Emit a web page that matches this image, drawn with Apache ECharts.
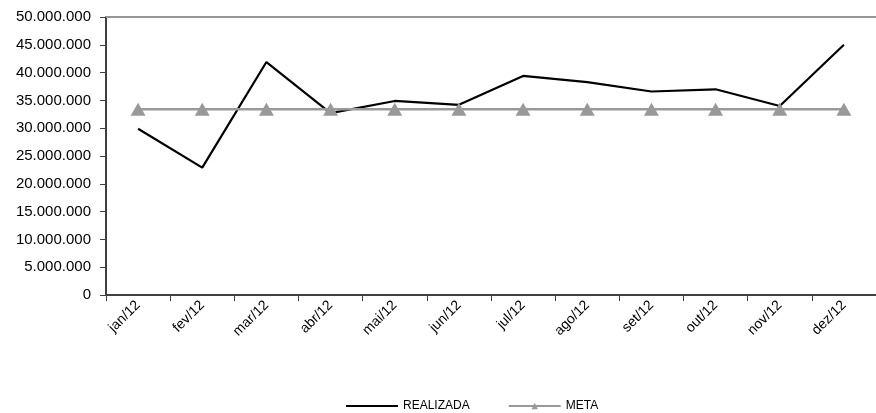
<!DOCTYPE html>
<html><head><meta charset="utf-8">
<script src="https://cdn.jsdelivr.net/npm/echarts@6/dist/echarts.min.js"></script>
<style>html,body{margin:0;padding:0;background:#fff}#c{width:876px;height:413px}</style>
</head><body><div id="c"></div>
<script>
const categories = ['jan/12','fev/12','mar/12','abr/12','mai/12','jun/12','jul/12','ago/12','set/12','out/12','nov/12','dez/12'];
const realizada = [29900000,22900000,41900000,32700000,34900000,34200000,39400000,38300000,36600000,37000000,34000000,45000000];
const meta = [33400000,33400000,33400000,33400000,33400000,33400000,33400000,33400000,33400000,33400000,33400000,33400000];
const seriesNames = ['REALIZADA','META'];

function fmt(v){ return String(v).replace(/\B(?=(\d{3})+(?!\d))/g,'.'); }

const chart = echarts.init(document.getElementById('c'), null, {renderer:'canvas'});
chart.setOption({
  animation:false,
  backgroundColor:'#fff',
  textStyle:{fontFamily:'Liberation Sans, Arial, sans-serif'},
  grid:{left:106, top:17, right:-6, bottom:118, containLabel:false},
  legend:{
    top:395, left:340, itemWidth:52, itemHeight:8, itemGap:38,
    textStyle:{fontSize:12, color:'#000', fontFamily:'Liberation Sans, Arial, sans-serif'},
    data:[{name:seriesNames[0], itemStyle:{opacity:0}},{name:seriesNames[1]}]
  },
  xAxis:[{
    type:'category', data:categories, boundaryGap:true,
    axisLine:{lineStyle:{color:'#404040', width:2}},
    axisTick:{show:true, length:6, alignWithLabel:false, lineStyle:{color:'#404040'}},
    axisLabel:{rotate:45, fontSize:14, color:'#000', margin:8, interval:0},
    splitLine:{show:false}
  },{
    type:'category', data:categories, position:'top', boundaryGap:true,
    axisLine:{show:true, lineStyle:{color:'#969696', width:2}},
    axisTick:{show:false}, axisLabel:{show:false}
  }],
  yAxis:{
    type:'value', min:0, max:50000000, interval:5000000,
    axisLine:{show:true, lineStyle:{color:'#404040', width:2}},
    axisTick:{show:true, length:6, lineStyle:{color:'#404040'}},
    axisLabel:{fontSize:15, color:'#000', margin:15, formatter:fmt},
    splitLine:{show:false}
  },
  series:[
    {name:seriesNames[0], type:'line', data:realizada, symbol:'none',
     lineStyle:{color:'#000', width:2.2}, itemStyle:{color:'#000'}, z:2},
    {name:seriesNames[1], type:'line', data:meta, symbol:'triangle', symbolSize:[15,13],
     lineStyle:{color:'#999', width:2.5}, itemStyle:{color:'#999'}, z:3}
  ]
});
</script></body></html>
